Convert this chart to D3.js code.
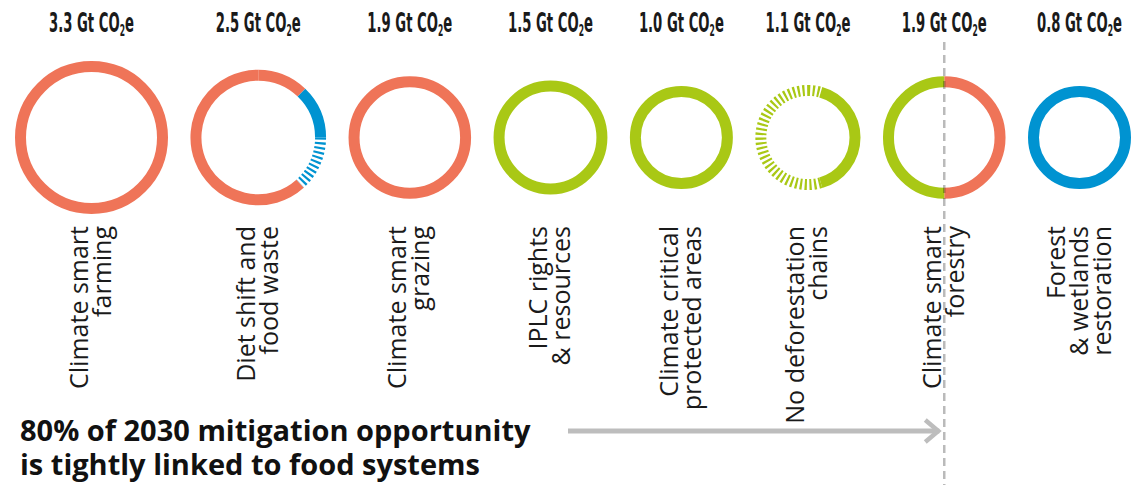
<!DOCTYPE html>
<html>
<head>
<meta charset="utf-8">
<script src="https://cdn.jsdelivr.net/npm/d3@7/dist/d3.min.js"></script>
<style>
  body { margin: 0; background: #fff; }
</style>
</head>
<body>
<script>
// solutions, left to right
var categories = ["farming", "diet", "grazing", "iplc", "protected", "nodefor", "forestry", "restoration"];
var nameLines = [
  ["Climate smart", "farming"],
  ["Diet shift and", "food waste"],
  ["Climate smart", "grazing"],
  ["IPLC rights", "& resources"],
  ["Climate critical", "protected areas"],
  ["No deforestation", "chains"],
  ["Climate smart", "forestry"],
  ["Forest", "& wetlands", "restoration"]
];
var values = [3.3, 2.5, 1.9, 1.5, 1.0, 1.1, 1.9, 0.8];

// ring pieces, clockwise from 12 o'clock
var segGroups = [
  ["food"],
  ["food", "restoration", "restoration", "food"],
  ["food"],
  ["forest"],
  ["forest"],
  ["forest", "forest", "forest"],
  ["food", "forest"],
  ["restoration"]
];
var segShares = [
  [1],
  [0.122, 0.128, 0.133, 0.617],
  [1],
  [1],
  [1],
  [0.044, 0.412, 0.544],
  [0.5, 0.5],
  [1]
];
var segPartial = [
  [false],
  [false, false, true, false],
  [false],
  [false],
  [false],
  [true, false, true],
  [false, false],
  [false]
];

var headline = ["80% of 2030 mitigation opportunity", "is tightly linked to food systems"];

var W = 1133, H = 485;
var cy = 137.5, ringW = 11;
var left = 15, right = 1131;

var color = d3.scaleOrdinal()
    .domain(["food", "forest", "restoration"])
    .range(["#EF7458", "#A9C815", "#0093D1"]);

var rScale = d3.scaleLinear().domain([1, 3.3]).range([46, 71]).clamp(true);

var svg = d3.select("body").append("svg")
    .attr("width", W)
    .attr("height", H);

// lay circles side by side with equal gaps
var outer = values.map(function(v) { return rScale(v) + ringW / 2; });
var gap = (right - left - 2 * d3.sum(outer)) / (values.length - 1);
var cx = [];
var pos = left;
outer.forEach(function(r) { cx.push(pos + r); pos += 2 * r + gap; });

var pie = d3.pie().sort(null).value(function(d) { return d.share; });

var g = svg.selectAll("g.sol")
    .data(categories)
    .enter().append("g")
    .attr("class", "sol")
    .attr("transform", function(d, i) { return "translate(" + cx[i] + "," + cy + ")"; });

g.each(function(d, i) {
  var r = rScale(values[i]);
  var pieces = segShares[i].map(function(s, j) {
    return {share: s, group: segGroups[i][j], partial: segPartial[i][j]};
  });
  d3.select(this).selectAll("path")
    .data(pie(pieces))
    .enter().append("path")
    .attr("d", function(p) {
      var path = d3.path();
      path.arc(0, 0, r, p.startAngle - Math.PI / 2, p.endAngle - Math.PI / 2);
      return path.toString();
    })
    .attr("fill", "none")
    .attr("stroke", function(p) { return color(p.data.group); })
    .attr("stroke-width", ringW)
    .attr("stroke-dasharray", function(p) { return p.data.partial ? "2.2,2.5" : null; });
});

// value labels on top, squeezed to a condensed look
var valLabels = svg.selectAll("text.val")
    .data(values)
    .enter().append("text")
    .attr("class", "val")
    .attr("x", 0)
    .attr("y", 0)
    .attr("text-anchor", "middle")
    .attr("font-family", "'Liberation Sans Narrow', 'DejaVu Sans Condensed', sans-serif")
    .attr("font-weight", "bold")
    .attr("font-size", "26px")
    .attr("fill", "#1a1a1a");
valLabels.append("tspan").text(function(d) { return d3.format(".1f")(d) + " Gt CO"; });
valLabels.append("tspan").attr("font-size", "15px").attr("dy", 4).text("2");
valLabels.append("tspan").attr("dy", -4).text("e");
valLabels.attr("transform", function(d, i) {
  var w = this.getBBox().width;
  return "translate(" + cx[i] + ",32) scale(" + (85 / w) + ",1)";
});

// rotated names
var names = svg.selectAll("text.name")
    .data(nameLines)
    .enter().append("text")
    .attr("class", "name")
    .attr("transform", function(d, i) { return "translate(" + cx[i] + ",226) rotate(-90)"; })
    .attr("text-anchor", "end")
    .attr("font-family", "'Open Sans', sans-serif")
    .attr("font-size", "25px")
    .attr("fill", "#1a1a1a");
names.each(function(lines) {
  var n = lines.length;
  d3.select(this).selectAll("tspan")
    .data(lines)
    .enter().append("tspan")
    .attr("x", 0)
    .attr("y", function(l, j) { return (j - (n - 1) / 2) * 23 + 8; })
    .text(function(l) { return l; });
});

// divider through the forestry circle
var divX = cx[categories.indexOf("forestry")];
svg.append("line")
    .attr("x1", divX).attr("x2", divX)
    .attr("y1", 42).attr("y2", H)
    .attr("stroke", "#000")
    .attr("stroke-opacity", 0.27)
    .attr("stroke-width", 2.5)
    .attr("stroke-dasharray", "8,5");

// arrow towards the divider
var ay = 431;
svg.append("line")
    .attr("x1", 568).attr("x2", divX - 5)
    .attr("y1", ay).attr("y2", ay)
    .attr("stroke", "#BDBDBD")
    .attr("stroke-width", 5);
svg.append("path")
    .attr("d", "M" + (divX - 19) + "," + (ay - 11) + "L" + (divX - 6) + "," + ay + "L" + (divX - 19) + "," + (ay + 11))
    .attr("fill", "none")
    .attr("stroke", "#BDBDBD")
    .attr("stroke-width", 4.5);

// headline
svg.append("text")
    .attr("x", 20)
    .attr("font-family", "'Open Sans', sans-serif")
    .attr("font-weight", "bold")
    .attr("font-size", "29px")
    .attr("fill", "#111")
    .selectAll("tspan")
    .data(headline)
    .enter().append("tspan")
    .attr("x", 20)
    .attr("y", function(d, i) { return 441 + i * 34; })
    .text(function(d) { return d; });
</script>
</body>
</html>
